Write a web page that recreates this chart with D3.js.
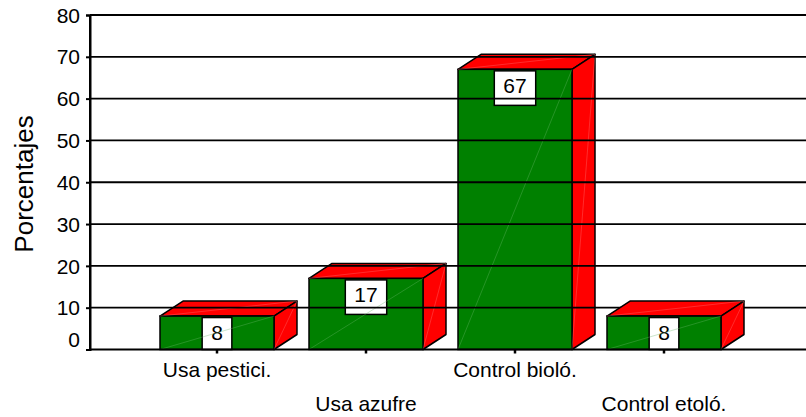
<!DOCTYPE html>
<html>
<head>
<meta charset="utf-8">
<script src="https://cdn.jsdelivr.net/npm/d3@7"></script>
<style>
  body { margin: 0; background: #fff; }
  text { font-family: Arial, 'Liberation Sans', sans-serif; fill: #000; }
</style>
</head>
<body>
<svg width="806" height="417"></svg>
<script>
(function() {
    const categories = ['Usa pestici.', 'Usa azufre', 'Control bioló.', 'Control etoló.']
    const values = [8, 17, 67, 8]
    const yTicks = [0, 10, 20, 30, 40, 50, 60, 70, 80]
    const yTitle = 'Porcentajes'

    const svg = d3.select('svg')
    const width = +svg.attr('width')

    const x0 = 90, y0 = 349.5, yTop = 15
    const depth = { dx: 23, dy: -15 }

    const x = d3.scaleBand()
        .domain(categories)
        .range([142.5, 738.5])
        .paddingInner(0.235)
        .paddingOuter(0.1175)

    const y = d3.scaleLinear()
        .domain([0, 80])
        .range([y0, yTop])

    const bars = categories.map((c, i) => ({
        cat: c,
        value: values[i],
        xl: x(c),
        xr: x(c) + x.bandwidth(),
        yt: y(values[i])
    }))

    const pts = a => a.map(p => p.join(',')).join(' ')

    const drawBar = (g, d) => {
        const { dx, dy } = depth
        g.append('polygon')
            .attr('points', pts([[d.xl, d.yt], [d.xl + dx, d.yt + dy], [d.xr + dx, d.yt + dy], [d.xr, d.yt]]))
            .attr('fill', '#ff0000').attr('stroke', '#000').attr('stroke-width', 1.5)
            .attr('stroke-linejoin', 'round')
        g.append('polygon')
            .attr('points', pts([[d.xr, d.yt], [d.xr + dx, d.yt + dy], [d.xr + dx, y0 + dy], [d.xr, y0]]))
            .attr('fill', '#ff0000').attr('stroke', '#000').attr('stroke-width', 1.5)
            .attr('stroke-linejoin', 'round')
        g.append('rect')
            .attr('x', d.xl).attr('y', d.yt)
            .attr('width', d.xr - d.xl).attr('height', y0 - d.yt)
            .attr('fill', '#008000').attr('stroke', '#000').attr('stroke-width', 1.5)

        // label box
        const txt = String(d.value)
        const bw = txt.length * 11.7 + 18
        const cx = (d.xl + d.xr) / 2
        g.append('rect')
            .attr('x', cx - bw / 2).attr('y', d.yt + 1.5)
            .attr('width', bw).attr('height', Math.min(34.5, y0 - d.yt - 1.5))
            .attr('fill', '#fff').attr('stroke', '#000').attr('stroke-width', 1.5)
        g.append('text')
            .attr('x', cx).attr('y', d.yt + 24)
            .attr('text-anchor', 'middle')
            .attr('font-size', 21)
            .text(txt)

        // faint shading seams
        const seam = [
            [[d.xl, y0], [d.xr, d.yt]],
            [[d.xr, y0], [d.xr + dx, d.yt + dy]],
            [[d.xl, d.yt], [d.xr + dx, d.yt + dy]]
        ]
        seam.forEach((s, k) => {
            g.append('line')
                .attr('x1', s[0][0]).attr('y1', s[0][1])
                .attr('x2', s[1][0]).attr('y2', s[1][1])
                .attr('stroke', k === 0 ? '#6cb86c' : '#ff7a7a')
                .attr('stroke-width', 0.6)
                .attr('opacity', 0.6)
        })
    }

    // the last bar sits in front of the grid, the others behind it
    const barLayer = svg.append('g').attr('class', 'bars')
    bars.slice(0, 3).forEach(d => drawBar(barLayer.append('g'), d))

    // grid lines
    svg.append('g')
        .attr('class', 'grid')
        .selectAll('line')
        .data(yTicks.filter(t => t > 0))
        .enter()
        .append('line')
        .attr('x1', x0).attr('x2', width)
        .attr('y1', d => y(d)).attr('y2', d => y(d))
        .attr('stroke', '#000')
        .attr('stroke-width', 1.8)

    drawBar(svg.append('g'), bars[3])

    // y axis
    const yAxis = svg.append('g')
        .attr('transform', `translate(${x0},0)`)
        .call(d3.axisLeft(y).tickValues(yTicks).tickSize(4).tickPadding(6))
    yAxis.select('.domain').attr('stroke', '#000').attr('stroke-width', 2)
    yAxis.selectAll('.tick line').attr('stroke-width', 2)
    yAxis.selectAll('.tick text')
        .attr('font-size', 21)
        .attr('font-family', "Arial, 'Liberation Sans', sans-serif")
        .attr('dy', d => d === 0 ? '-0.15em' : '0.34em')

    // x axis
    const xAxis = svg.append('g')
        .attr('transform', `translate(0,${y0})`)
        .call(d3.axisBottom(x).tickSize(4).tickSizeOuter(0))
    xAxis.select('.domain').attr('d', `M${x0},0H${width}`).attr('stroke', '#000').attr('stroke-width', 2.2)
    xAxis.selectAll('.tick line').attr('stroke-width', 2.5)
    xAxis.selectAll('.tick text')
        .attr('font-size', 21)
        .attr('font-family', "Arial, 'Liberation Sans', sans-serif")
        .attr('dy', 0)
        .attr('y', (d, i) => i % 2 === 0 ? 27.5 : 61.5)

    svg.append('line')
        .attr('x1', x0).attr('x2', x0)
        .attr('y1', yTop).attr('y2', y0)
        .attr('stroke', '#000').attr('stroke-width', 2)

    svg.append('text')
        .attr('transform', `translate(33,184) rotate(-90)`)
        .attr('text-anchor', 'middle')
        .attr('font-size', 26)
        .text(yTitle)
})()
</script>
</body>
</html>
